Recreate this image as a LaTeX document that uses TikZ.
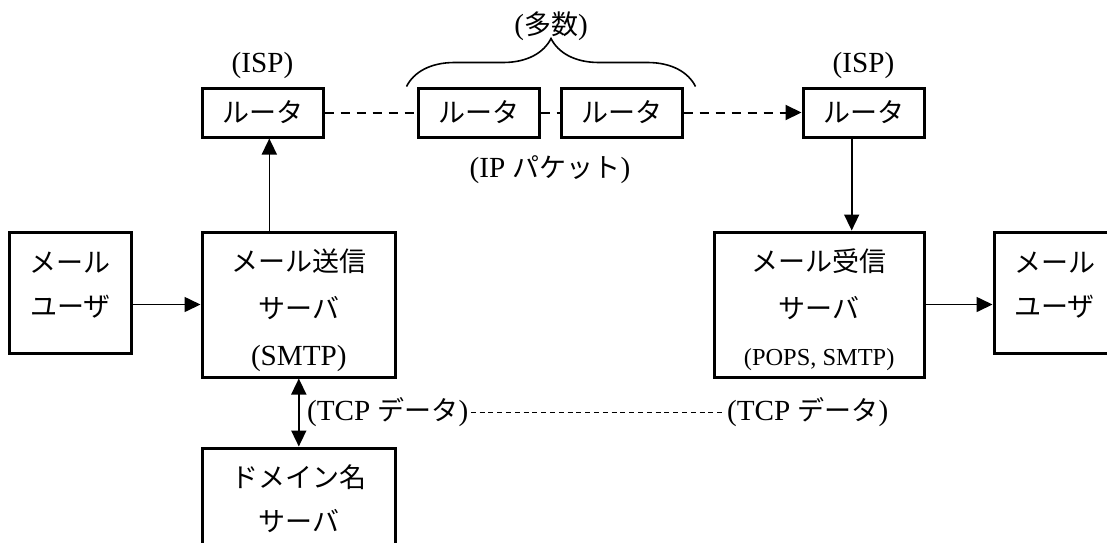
\documentclass[tikz,border=0pt]{standalone}
\usepackage{fontspec}
\setmainfont{Liberation Serif}[Scale = 1.08]
\newfontfamily\jpfont{Noto Sans CJK JP}
\usetikzlibrary{positioning, calc, arrows.meta, decorations.pathreplacing}
\tikzset{
every node/.style = {font = \jpfont\fontsize{13.5}{23.5}\selectfont},
unitbox/.style = {rectangle, draw, line width = 1.5pt, inner sep = 2pt,
   align = center},
router/.style = {unitbox, minimum width = 60.5pt, minimum height = 24.5pt},
user/.style = {unitbox, minimum width = 60.75pt, minimum height = 60.5pt,
   font = \jpfont\fontsize{13.5}{22}\selectfont, text depth = 8.4pt},
server/.style = {unitbox, minimum width = 96.8pt, minimum height = 72.5pt,
   text height = 64pt},
lookup/.style = {unitbox, minimum width = 96.8pt, minimum height = 50.7pt,
   font = \jpfont\fontsize{13.5}{22}\selectfont},
note/.style = {inner sep = 1pt},
flow/.style = {-{Triangle[length = 8pt, width = 7.5pt]}, line width = .8pt},
twoway/.style = {{Triangle[length = 8pt, width = 7.5pt]}-{Triangle[length = 8pt, width = 7.5pt]},
   line width = .8pt},
link/.style = {line width = 1pt, dash pattern = on 4.5pt off 3.5pt},
trace/.style = {line width = .6pt, dash pattern = on 2.5pt off 1.9pt},
bracket/.style = {decorate, decoration = {brace, amplitude = 24pt}, line width = .8pt}
}
\begin{document}
\begin{tikzpicture}[x = .5pt, y = -.5pt]
\useasboundingbox (0,0) rectangle (1107,542);
\clip (0,0) rectangle (1107,542);

%% Sending side
\node [user] (userL) at (70.25,292.5) {メール\\ユーザ};
\node [server] (send) [right = 34pt of userL.north east, anchor = north west]
   {メール送信\\サーバ\\\textrm{(SMTP)}};
\node [lookup] (dns) [below = 34pt of send] {ドメイン名\\サーバ};

%% Routers
\node [router] (rL) [above = 46pt of send.north west, anchor = south west] {ルータ};
\node [router] (rM1) [right = 46pt of rL] {ルータ};
\node [router] (rM2) [right = 9.5pt of rM1] {ルータ};
\node [router] (rR) [right = 59pt of rM2] {ルータ};

%% Receiving side
\node [server, minimum width = 104.85pt] (recv) [below = 46pt of rR.south east, anchor = north east]
   {メール受信\\サーバ\\{\fontsize{11.3}{23.5}\selectfont\textrm{(POPS, SMTP)}}};
\node [user] (userR) [right = 33.5pt of recv.north east, anchor = north west] {メール\\ユーザ};

%% Labels
\node [note] (ispL) [above = 2.5pt of rL] {\textrm{(ISP)}};
\node [note] (ispR) [above = 2.5pt of rR] {\textrm{(ISP)}};
\coordinate (bL) at ([xshift = -5pt] rM1.north west);
\coordinate (bR) at ([xshift = 6pt] rM2.north east);
\draw [bracket] (bL) -- (bR);
\node [note] (many) [above = 21.5pt of $(bL)!0.5!(bR)$] {\textrm{(}多数\textrm{)}};
\node [note] (pkt) [below = 7.5pt of $(rM1.south)!0.5!(rM2.south)$] {\textrm{(IP }パケット\textrm{)}};

%% Connections
\draw [flow] (userL.east |- send) -- (send.west);
\coordinate (up) at ($(send.north west)!0.35!(send.north east)$);
\draw [flow] (up) -- (up |- rL.south);
\draw [link] (rL) -- (rM1);
\draw [link] (rM1) -- (rM2);
\draw [flow, link] (rM2) -- (rR);
\coordinate (down) at ($(recv.north west)!0.653!(recv.north east)$);
\draw [flow] (down |- rR.south) -- (down);
\draw [flow] (recv) -- (recv -| userR.west);

%% TCP
\draw [twoway] (send) -- (dns);
\node [note] (tcpL) [right = 3pt of $(send.south)!0.5!(dns.north)$] {\textrm{(TCP }データ\textrm{)}};
\node [note] (tcpR) [right = 127pt of tcpL] {\textrm{(TCP }データ\textrm{)}};
\draw [trace] (tcpL) -- (tcpR);

\end{tikzpicture}
\end{document}
